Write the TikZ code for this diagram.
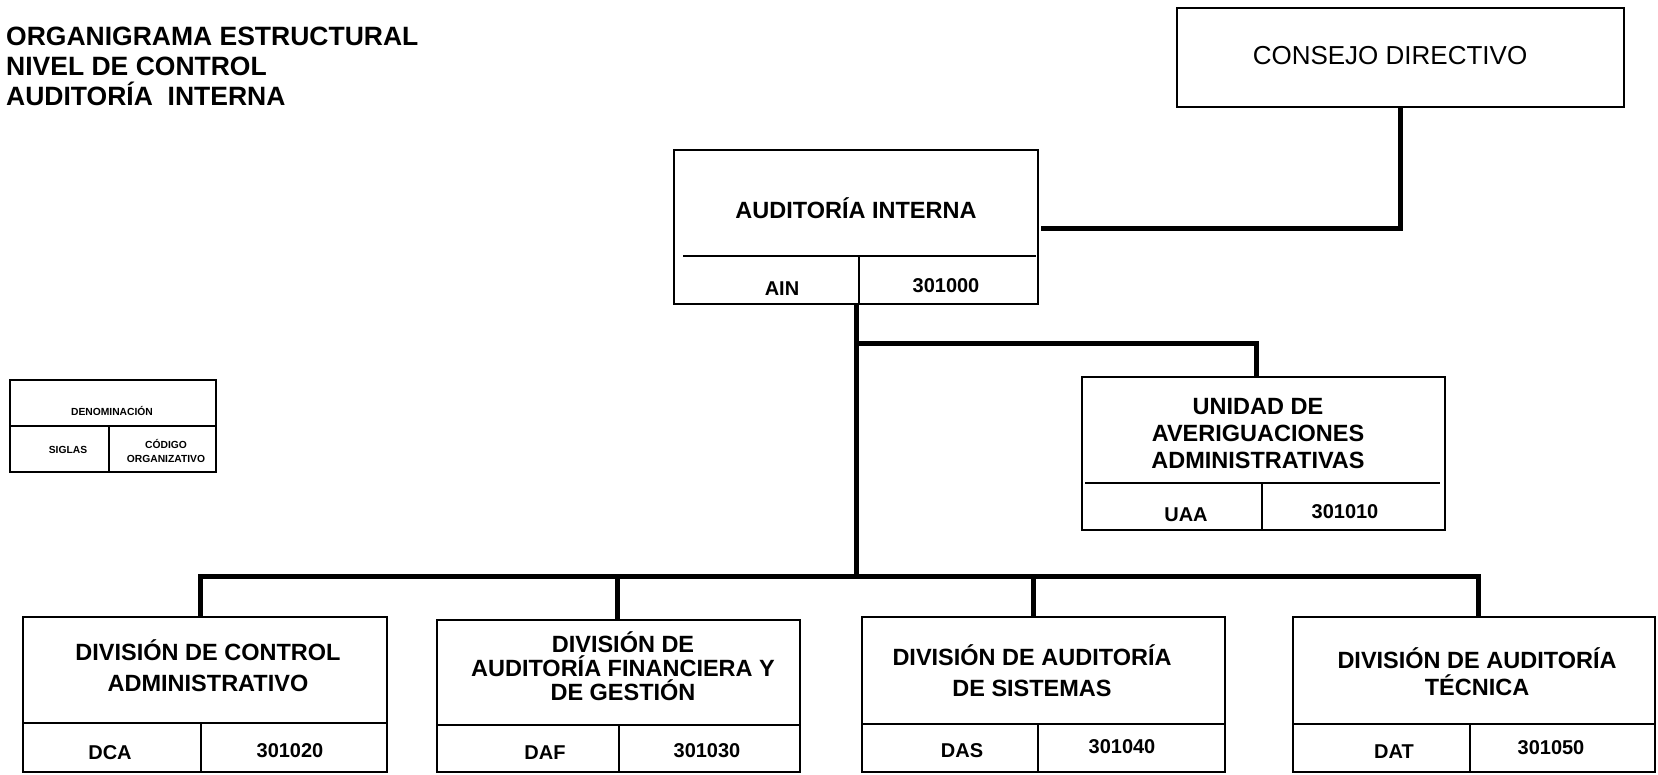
\documentclass[tikz,border=0pt]{standalone}
\usepackage{fontspec}
\setmainfont{Liberation Sans}
\begin{document}
\tikzset{
  box/.style={draw, line width=2pt, inner sep=0pt},
  conn/.style={line width=5pt, line join=miter},
  div/.style={line width=1.3pt},
  ttl/.style={font=\fontsize{23.5}{26}\selectfont\bfseries, align=center, inner sep=0pt},
  cod/.style={font=\fontsize{20}{22}\selectfont\bfseries, inner sep=0pt},
  legt/.style={font=\fontsize{10.3}{14}\selectfont\bfseries, align=center, inner sep=0pt},
  head/.style={font=\fontsize{26.5}{31}\selectfont\bfseries, inner sep=0pt, anchor=base west}
}
\begin{tikzpicture}[x=1pt,y=-1pt]
\useasboundingbox (0,0) rectangle (1658,775);

% heading
\node[head] (t1) at (6,46) {ORGANIGRAMA ESTRUCTURAL};
\node[head] (t2) at (6,76) {NIVEL DE CONTROL};
\node[head] (t3) at (6,106) {AUDITORÍA\ \ INTERNA};

% consejo
\node[box, minimum width=447pt, minimum height=99pt] (cd) at (1400.5,57.5) {};
\node[font=\fontsize{26}{30}\selectfont, inner sep=0pt] (cdt) at (1390,56) {CONSEJO DIRECTIVO};

% auditoria interna
\node[box, minimum width=364pt, minimum height=154pt] (ain) at (856,227) {};
\draw[div] (683,256) -- (1036,256);
\draw[div] (859,256) -- (859,304);
\node[ttl] (aint) at (856,208) {AUDITORÍA INTERNA};
\node[cod] (ains) at (782,289) {AIN};
\node[cod] (ainc) at (946,286) {301000};

% UAA
\node[box, minimum width=363pt, minimum height=153pt] (uaa) at (1263.5,453.5) {};
\draw[div] (1085,483) -- (1440,483);
\draw[div] (1262,483) -- (1262,530);
\node[ttl, font=\fontsize{23.5}{27}\selectfont\bfseries] (uaat) at (1258,433.5) {UNIDAD DE\\AVERIGUACIONES\\ADMINISTRATIVAS};
\node[cod] (uaas) at (1186,514.5) {UAA};
\node[cod] (uaac) at (1345,512) {301010};

% legend
\node[box, minimum width=206pt, minimum height=92pt] (leg) at (113,426) {};
\draw[div] (10,426) -- (216,426);
\draw[div] (109,426) -- (109,472);
\node[legt] (legd) at (112,411) {DENOMINACIÓN};
\node[legt] (legs) at (68,450) {SIGLAS};
\node[legt] (legc) at (166,451) {CÓDIGO\\ORGANIZATIVO};

% DCA
\node[box, minimum width=364pt, minimum height=155pt] (dca) at (205,694.5) {};
\draw[div] (23,723) -- (387,723);
\draw[div] (201,723) -- (201,772);
\node[ttl, font=\fontsize{23.5}{31.5}\selectfont\bfseries] (dcat) at (208,665.6) {DIVISIÓN DE CONTROL\\ADMINISTRATIVO};
\node[cod] (dcas) at (110,753) {DCA};
\node[cod] (dcac) at (290,751) {301020};

% DAF
\node[box, minimum width=363pt, minimum height=152pt] (daf) at (618.5,696) {};
\draw[div] (437,725) -- (800,725);
\draw[div] (619,725) -- (619,772);
\node[ttl, font=\fontsize{23.5}{24}\selectfont\bfseries] (daft) at (623,666.6) {DIVISIÓN DE\\AUDITORÍA FINANCIERA Y\\DE GESTIÓN};
\node[cod] (dafs) at (545,752.5) {DAF};
\node[cod] (dafc) at (707,751) {301030};

% DAS
\node[box, minimum width=363pt, minimum height=155pt] (das) at (1043.5,694.5) {};
\draw[div] (862,724) -- (1225,724);
\draw[div] (1038,724) -- (1038,772);
\node[ttl, font=\fontsize{23.5}{31}\selectfont\bfseries] (dast) at (1032,670.6) {DIVISIÓN DE AUDITORÍA\\DE SISTEMAS};
\node[cod] (dass) at (962,751) {DAS};
\node[cod] (dasc) at (1122,747) {301040};

% DAT
\node[box, minimum width=362pt, minimum height=155pt] (dat) at (1474,694.5) {};
\draw[div] (1293,724) -- (1655,724);
\draw[div] (1470,724) -- (1470,772);
\node[ttl, font=\fontsize{23.5}{27.5}\selectfont\bfseries] (datt) at (1477,671.6) {DIVISIÓN DE AUDITORÍA\\TÉCNICA};
\node[cod] (dats) at (1394,751.5) {DAT};
\node[cod] (datc) at (1551,747.5) {301050};

% connectors
\coordinate (c1) at (1041,229);
\draw[conn] (cd.south) |- (c1);
\coordinate (j1) at (856,344);
\coordinate (bm) at (856,576);
\draw[conn] (ain.south) -- (bm);
\draw[conn] (j1) -| ([xshift=-7.5pt]uaa.north);
\coordinate (b1) at (200,576);
\coordinate (b2) at (617,576);
\coordinate (b3) at (1033,576);
\coordinate (b4) at (1478,576);
\draw[conn] (b1 |- dca.north) -- (b1) -- (b4) -- (b4 |- dat.north);
\draw[conn] (b2) -- (b2 |- daf.north);
\draw[conn] (b3) -- (b3 |- das.north);
\end{tikzpicture}
\end{document}
